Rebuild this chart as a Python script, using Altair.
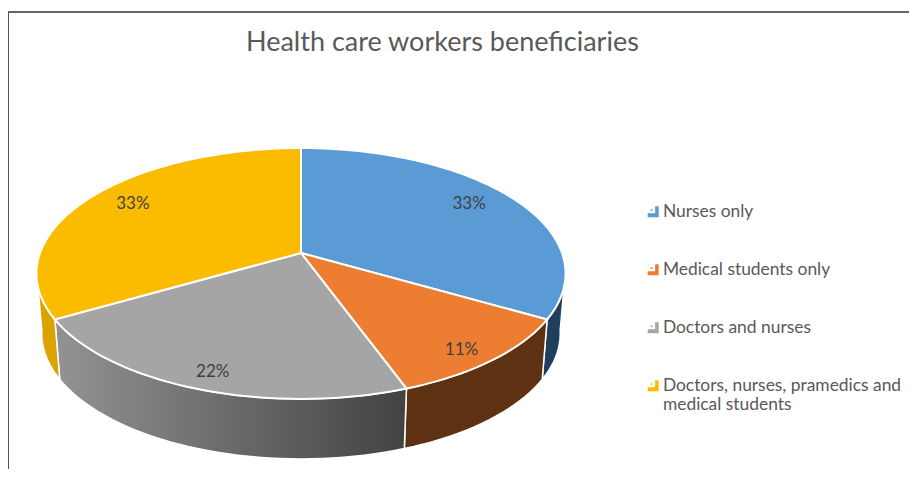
import math
import altair as alt

categories = ["Nurses only", "Medical students only", "Doctors and nurses",
              "Doctors, nurses, pramedics and medical students"]
values = [3, 1, 2, 3]
colors = ["#5B9BD5", "#ED7D31", "#A5A5A5", "#FBBC00"]
wall_colors = ["#203F5C", "#5E3113", None, "#DBA300"]

W, H = 901, 461
CX, CY = 293, 245
R, B, K = 261, 122.1, 0.1633
DEPTH, SHRINK = 60, 0.98
LABEL_RADIUS = [0.82, 0.88, 0.88, 0.82]
LABEL_TURN = [-2.6, 1.7, -0.6, 2.6]


def project(angle, f=1.0, lower=False):
    a = math.radians(angle)
    x, z = math.sin(a) * f, -math.cos(a) * f
    w = 1 - K * z
    rr = R * (SHRINK if lower else 1)
    return [CX + rr * x / w, CY + (DEPTH if lower else 0) + B * z / w]


def arc(a0, a1, lower=False):
    n = max(2, int(abs(a1 - a0) / 2))
    return [project(a0 + (a1 - a0) * i / n, 1.0, lower) for i in range(n + 1)]


def feature(ring, **props):
    ring = ring + [ring[0]]
    return {"type": "Feature", "properties": props,
            "geometry": {"type": "Polygon", "coordinates": [ring]}}


def shapes(feats):
    return alt.InlineData(values={"type": "FeatureCollection", "features": feats},
                          format=alt.DataFormat(property="features", type="json"))


total = sum(values)
starts, acc = [], 0
for v in values:
    starts.append(acc / total * 360)
    acc += v
ends = starts[1:] + [360]

# side walls, only the parts facing the viewer (closing on the silhouette tangent)
wall_limits = [(98, 120), (120, 160), (160, 240), (240, 262)]
walls = []
for (a0, a1), col in zip(wall_limits, wall_colors):
    ring = arc(a0, a1) + arc(a1, a0, True)
    fill = col if col else alt.Gradient(
        gradient="linear", x1=0, x2=1, y1=0, y2=0,
        stops=[alt.GradientStop(color="#939393", offset=0),
               alt.GradientStop(color="#424242", offset=1)])
    walls.append(alt.Chart(shapes([feature(ring, kind="wall")]))
                 .mark_geoshape(fill=fill, stroke="white", strokeWidth=1.5))

# top face
tops = [feature([project(0, 0)] + arc(s, e), name=c)
        for s, e, c in zip(starts, ends, categories)]
top = alt.Chart(shapes(tops)).mark_geoshape(stroke="white", strokeWidth=2).encode(
    color=alt.Color(
        "properties.name:N",
        scale=alt.Scale(domain=categories, range=colors),
        legend=alt.Legend(
            title=None, orient="none", legendX=636.5, legendY=195,
            symbolType="M-1,1L1,1L1,-1L0.35,-1L0.35,0.3L-1,0.3ZM-0.45,-0.45L-0.15,-0.45L-0.15,-0.15L-0.45,-0.15Z",
            symbolSize=121, symbolStrokeWidth=0, symbolOpacity=1,
            labelFont="Lato", labelFontSize=17.4, labelColor="#595959",
            labelOffset=1, rowPadding=39, labelLimit=300,
            labelExpr="datum.label == 'Doctors, nurses, pramedics and medical students' ? "
                      "['Doctors, nurses, pramedics and', 'medical students'] : datum.label",
        ),
    )
)

# percentage labels
rows = []
for s, e, v, f, t in zip(starts, ends, values, LABEL_RADIUS, LABEL_TURN):
    p = project((s + e) / 2 + t, f)
    rows.append({"lon": p[0], "lat": p[1], "label": f"{round(v / total * 100)}%"})
labels = alt.Chart(alt.Data(values=rows)).mark_text(
    font="Lato", fontSize=17, color="#404040", baseline="middle", align="center", dy=1.5
).encode(longitude="lon:Q", latitude="lat:Q", text="label:N")

blank = alt.Data(values=[{"a": 1}])
border_top = alt.Chart(blank).mark_rule(color="#666666", strokeWidth=2).encode(
    x=alt.value(0), x2=alt.value(W), y=alt.value(4))
border_left = alt.Chart(blank).mark_rule(color="#555555", strokeWidth=1).encode(
    x=alt.value(0.5), y=alt.value(4), y2=alt.value(H))

chart = alt.layer(*walls, top, labels, border_top, border_left).properties(
    width=W, height=H,
    padding=0,
    autosize=alt.AutoSizeParams(type="none"),
    projection=alt.Projection(type="identity", scale=1, translate=[0, 0]),
    title=alt.TitleParams(
        "Health care workers beneficiaries", anchor="start", dx=239, dy=53,
        font="Lato", fontSize=27, fontWeight="normal", color="#595959"),
).configure_view(stroke=None)

chart.save("out.html", embed_options={"renderer": "svg", "actions": False})
